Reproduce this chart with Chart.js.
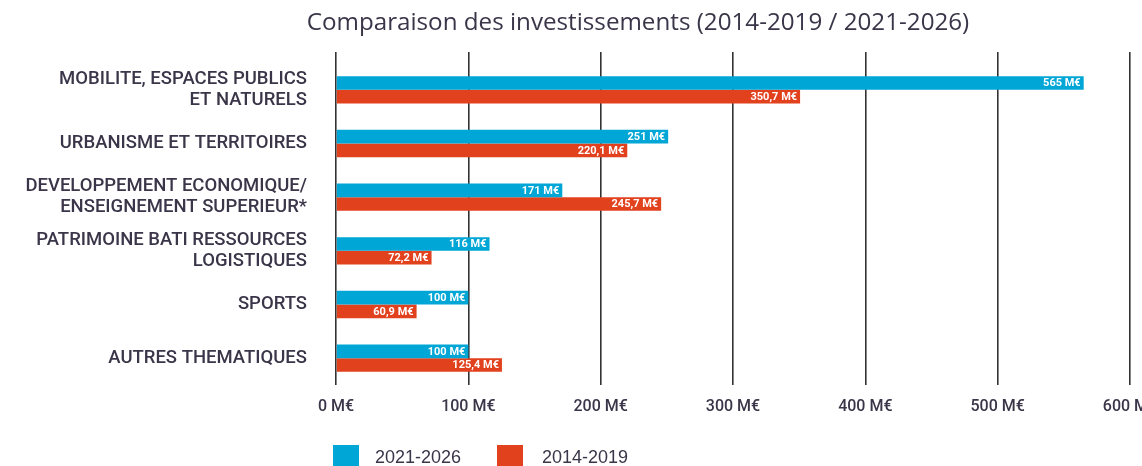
<!DOCTYPE html>
<html>
<head>
<meta charset="utf-8">
<script src="https://cdn.jsdelivr.net/npm/chart.js@4"></script>
<style>
  html, body { margin: 0; padding: 0; background: #ffffff; overflow: hidden; }
  #wrap { width: 1142px; height: 466px; position: relative; }
</style>
</head>
<body>
<div id="wrap"><canvas id="c" width="1142" height="466"></canvas></div>
<script>
const chartTitle = "Comparaison des investissements (2014-2019 / 2021-2026)";
const categories = [
  ["MOBILITE, ESPACES PUBLICS", "ET NATURELS"],
  "URBANISME ET TERRITOIRES",
  ["DEVELOPPEMENT ECONOMIQUE/", "ENSEIGNEMENT SUPERIEUR*"],
  ["PATRIMOINE BATI RESSOURCES", "LOGISTIQUES"],
  "SPORTS",
  "AUTRES THEMATIQUES"
];
const seriesNames = ["2021-2026", "2014-2019"];
const values20212026 = [565, 251, 171, 116, 100, 100];
const values20142019 = [350.7, 220.1, 245.7, 72.2, 60.9, 125.4];
const xTickLabels = ["0 M€", "100 M€", "200 M€", "300 M€", "400 M€", "500 M€", "600 M€"];
const xMin = 0, xMax = 600, xStep = 100;

const BLUE = "rgb(0,166,214)";
const RED = "rgb(226,65,30)";
const TEXT = "#3a3548";
const GRID = "#333333";

function fmt(v) {
  return (Number.isInteger(v) ? String(v) : String(v).replace(".", ",")) + " M€";
}

const overlay = {
  id: "overlay",
  afterDraw(chart) {
    const ctx = chart.ctx;
    ctx.save();
    // title
    ctx.fillStyle = TEXT;
    ctx.font = "24.2px 'Open Sans'";
    ctx.textAlign = "center";
    ctx.textBaseline = "middle";
    ctx.fillText(chartTitle, 638, 23);
    // value labels
    ctx.font = "bold 11px Roboto";
    ctx.textAlign = "right";
    ctx.fillStyle = "#ffffff";
    chart.data.datasets.forEach((ds, di) => {
      const meta = chart.getDatasetMeta(di);
      meta.data.forEach((bar, i) => {
        ctx.fillText(fmt(ds.data[i]), bar.x - 3, bar.y + 0.5);
      });
    });
    // legend
    const items = [{x: 333, tx: 375}, {x: 497, tx: 542}];
    ctx.font = "18px 'Liberation Sans'";
    ctx.textAlign = "left";
    chart.data.datasets.forEach((ds, di) => {
      ctx.fillStyle = ds.backgroundColor;
      ctx.fillRect(items[di].x, 445, 26, 22);
      ctx.fillStyle = TEXT;
      ctx.fillText(ds.label, items[di].tx, 458);
    });
    ctx.restore();
  }
};

new Chart(document.getElementById("c"), {
  type: "bar",
  data: {
    labels: categories,
    datasets: [
      { label: seriesNames[0], data: values20212026, backgroundColor: BLUE },
      { label: seriesNames[1], data: values20142019, backgroundColor: RED }
    ]
  },
  options: {
    indexAxis: "y",
    responsive: false,
    animation: false,
    events: [],
    layout: { padding: { top: 52, right: 12, left: 0, bottom: 0 } },
    datasets: { bar: { categoryPercentage: 0.51, barPercentage: 1.0 } },
    plugins: { legend: { display: false }, title: { display: false }, tooltip: { enabled: false } },
    scales: {
      x: {
        type: "linear", position: "bottom", min: xMin, max: xMax,
        grid: { color: GRID, lineWidth: 1.6, drawTicks: false },
        border: { display: false },
        ticks: {
          stepSize: xStep, padding: 12, color: TEXT,
          font: { family: "Roboto", size: 16, weight: "500" },
          maxRotation: 0,
          callback: (v, i) => xTickLabels[i]
        },
        afterFit(s) { s.height = 81; s.paddingLeft = 0; s.paddingRight = 0; }
      },
      xTop: {
        type: "linear", position: "top", min: xMin, max: xMax,
        grid: { color: GRID, lineWidth: 1.6, drawOnChartArea: false, drawTicks: true, tickLength: 11 },
        border: { display: false },
        ticks: { stepSize: xStep, display: false },
        afterFit(s) { s.height = 11; s.paddingLeft = 0; s.paddingRight = 0; }
      },
      y: {
        grid: { display: false, drawTicks: false },
        border: { display: false },
        ticks: {
          color: TEXT, padding: 29,
          font: { family: "Roboto", size: 18.5, weight: "500", lineHeight: 1.15 }
        },
        afterFit(s) { s.width = 336; s.paddingTop = 0; s.paddingBottom = 0; }
      }
    }
  },
  plugins: [overlay]
});
</script>
</body>
</html>
